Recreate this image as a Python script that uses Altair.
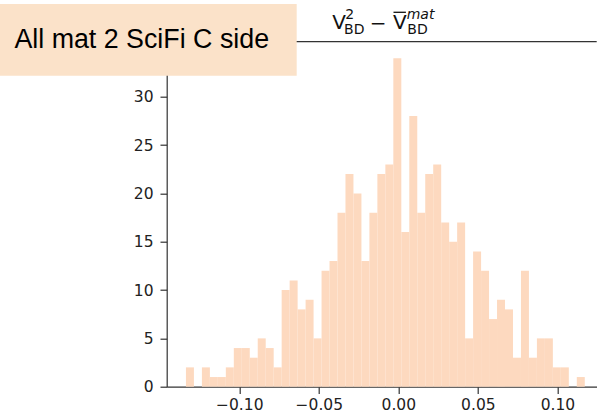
import altair as alt
import numpy as np
import pandas as pd

# Histogram: 50 equal bins between these two edges
bin_lo = -0.1335
bin_hi = 0.1172
counts = [2, 0, 2, 1, 1, 2, 4, 4, 3, 5,
          4, 2, 10, 11, 8, 9, 5, 12, 13, 18,
          22, 20, 13, 18, 22, 23, 34, 16, 28, 18,
          22, 23, 17, 15, 17, 5, 14, 12, 7, 9,
          8, 3, 12, 3, 5, 5, 2, 2, 0, 1]
x_ticks = [-0.10, -0.05, 0.00, 0.05, 0.10]
y_ticks = [0, 5, 10, 15, 20, 25, 30]
annotation = "All mat 2 SciFi C side"

edges = np.linspace(bin_lo, bin_hi, len(counts) + 1)
df = pd.DataFrame({"lo": edges[:-1], "hi": edges[1:], "n": counts})

W, H = 430, 345
xdom = [-0.1456, 0.1247]
ydom = [0, 35.7]
FONT = "DejaVu Sans"

xscale = alt.Scale(domain=xdom, nice=False, zero=False)
yscale = alt.Scale(domain=ydom, nice=False)

bars = alt.Chart(df).mark_rect(color="#FDD9BF", strokeWidth=0).encode(
    x=alt.X("lo:Q", scale=xscale,
            axis=alt.Axis(values=x_ticks, format=".2f", title=None, grid=False,
                          tickSize=6.7, tickWidth=1.2, domainWidth=1.2,
                          domainColor="#333", tickColor="#333",
                          labelColor="#222", labelFont=FONT, labelFontSize=15.5,
                          labelPadding=4, labelFlush=False)),
    x2="hi:Q",
    y=alt.Y("n:Q", scale=yscale,
            axis=alt.Axis(values=y_ticks, format="d", title=None, grid=False,
                          tickSize=6.7, tickWidth=1.2, domainWidth=1.2,
                          domainColor="#333", tickColor="#333",
                          labelColor="#222", labelFont=FONT, labelFontSize=15.5,
                          labelPadding=7)),
    y2=alt.datum(0),
)

one = pd.DataFrame({"a": [0]})

top_spine = alt.Chart(one).mark_rule(color="#333", strokeWidth=1.2).encode(
    x=alt.value(0), x2=alt.value(W), y=alt.value(0))


def txt(s, x, y, size, style="normal", font=FONT, color="#111", align="left"):
    return alt.Chart(one).mark_text(
        align=align, baseline="alphabetic", font=font, fontSize=size,
        fontStyle=style, color=color).encode(
        x=alt.value(x), y=alt.value(y), text=alt.value(s))


title_parts = [
    txt("V", 165.6, -12.7, 20),
    txt("2", 178.6, -22.6, 14),
    txt("BD", 177.4, -7.6, 14),
    txt("\u2212", 211.3, -12.2, 20, align="center"),
    txt("V", 226.4, -12.7, 20),
    alt.Chart(one).mark_rule(color="#111", strokeWidth=1.3).encode(
        x=alt.value(226.8), x2=alt.value(239.2), y=alt.value(-29.4)),
    txt("mat", 240.0, -22.6, 14, style="italic"),
    txt("BD", 240.6, -7.6, 14),
]

box = alt.Chart(one).mark_rect(color="#FBE2C9", strokeWidth=0).encode(
    x=alt.value(-166.7), x2=alt.value(130), y=alt.value(-37.7), y2=alt.value(34))
box_text = txt(annotation, -152.3, 6.6, 26.8, font="Liberation Sans", color="#000")

chart = alt.layer(bars, top_spine, *title_parts, box, box_text).properties(
    width=W, height=H,
    autosize=alt.AutoSizeParams(type="none"),
    padding={"left": 166.7, "top": 41.7, "right": 0.3, "bottom": 30.3},
    background="white",
).configure_view(stroke=None)

chart.save("out.html", embed_options={"renderer": "svg", "actions": False})
